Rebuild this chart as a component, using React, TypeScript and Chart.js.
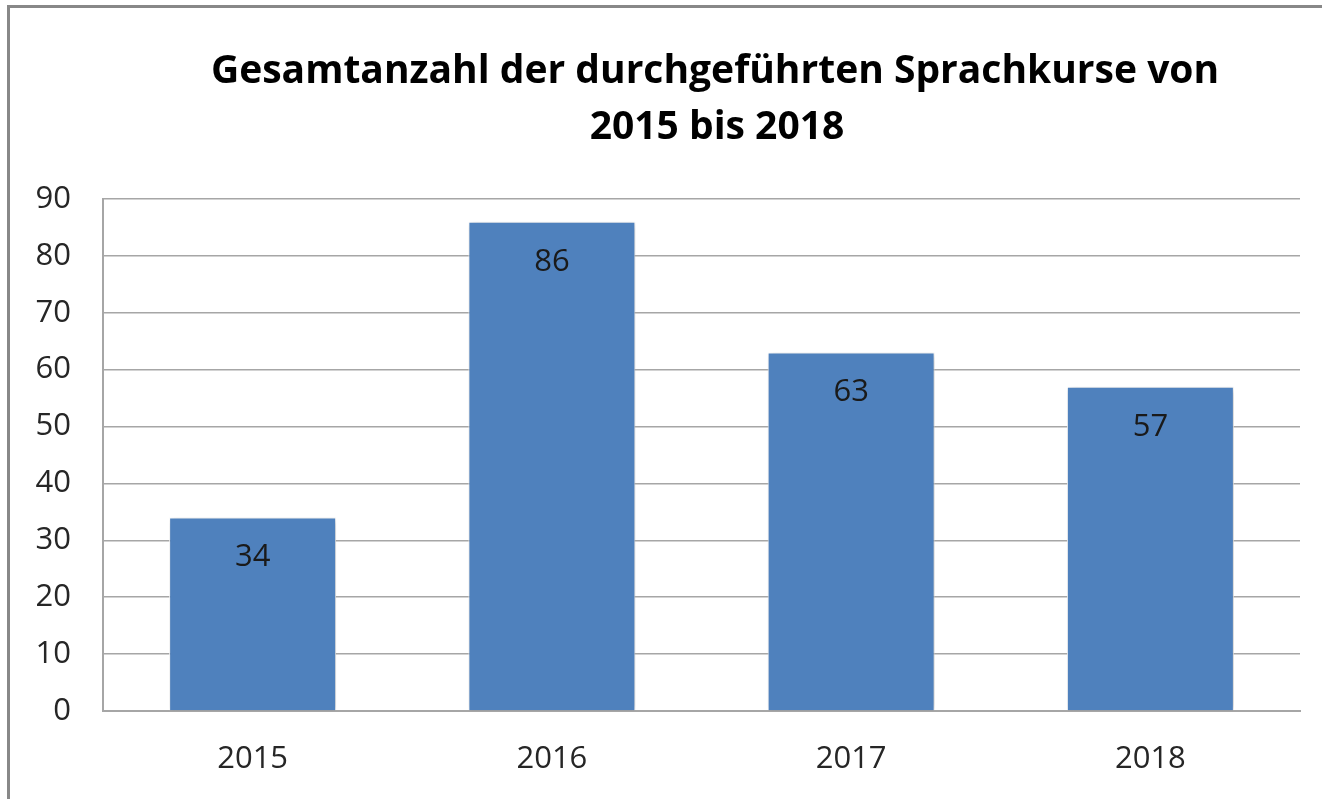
import React, { useEffect, useRef } from "react";
import { Chart, registerables } from "chart.js";

Chart.register(...registerables);

const categories = ["2015", "2016", "2017", "2018"];
const values = [34, 86, 63, 57];
const titleLines = ["Gesamtanzahl der durchgeführten Sprachkurse von", "2015 bis 2018"];

const FONT = "'Open Sans', 'Liberation Sans', sans-serif";

const titlePlugin = {
  id: "customTitle",
  afterDraw(chart: any) {
    const ctx = chart.ctx;
    ctx.save();
    ctx.fillStyle = "#000";
    ctx.font = `bold 39px ${FONT}`;
    ctx.textAlign = "center";
    ctx.textBaseline = "middle";
    ctx.fillText(titleLines[0], 715, 72);
    ctx.fillText(titleLines[1], 717, 128);
    ctx.restore();
  },
};

const shadowPlugin = {
  id: "barShadow",
  beforeDatasetDraw(chart: any) {
    const ctx = chart.ctx;
    ctx.save();
    ctx.shadowColor = "rgba(0,0,0,0.25)";
    ctx.shadowBlur = 7;
    ctx.shadowOffsetX = 2;
    ctx.shadowOffsetY = 1;
  },
  afterDatasetDraw(chart: any) {
    chart.ctx.restore();
  },
};

const labelPlugin = {
  id: "valueLabels",
  afterDatasetsDraw(chart: any) {
    const ctx = chart.ctx;
    const meta = chart.getDatasetMeta(0);
    ctx.save();
    ctx.fillStyle = "#1a1a1a";
    ctx.font = `31px ${FONT}`;
    ctx.textAlign = "center";
    ctx.textBaseline = "middle";
    meta.data.forEach((bar: any, i: number) => {
      ctx.fillText(String(values[i]), bar.x, bar.y + 40);
    });
    ctx.restore();
  },
};

export default function App() {
  const ref = useRef<HTMLCanvasElement>(null);
  useEffect(() => {
    if (!ref.current) return;
    const chart = new Chart(ref.current, {
      type: "bar",
      data: {
        labels: categories,
        datasets: [
          {
            data: values,
            backgroundColor: "#4F81BD",
            borderColor: "#ffffff",
            borderWidth: 1,
            barPercentage: 0.558,
            categoryPercentage: 1,
          },
        ],
      },
      options: {
        animation: false,
        responsive: false,
        layout: { padding: { left: 0, right: 22, top: 199, bottom: 0 } },
        plugins: { legend: { display: false }, tooltip: { enabled: false }, title: { display: false } },
        scales: {
          x: {
            grid: { display: false },
            border: { display: true, color: "#a6a6a6", width: 2 },
            ticks: { color: "#262626", font: { family: FONT, size: 31 }, padding: 22 },
            afterFit(scale: any) {
              scale.height = 88;
            },
          },
          y: {
            min: 0,
            max: 90,
            ticks: { stepSize: 10, color: "#262626", font: { family: FONT, size: 31 }, padding: 32 },
            grid: { color: "#a6a6a6", lineWidth: 1.5, drawTicks: false },
            border: { display: true, color: "#a6a6a6", width: 2 },
            afterFit(scale: any) {
              scale.width = 103;
            },
          },
        },
      },
      plugins: [shadowPlugin, labelPlugin, titlePlugin],
    });
    return () => chart.destroy();
  }, []);
  return (
    <div style={{ position: "fixed", left: 0, top: 0, width: 1322, height: 799, background: "#fff", overflow: "hidden" }}>
      <canvas ref={ref} width={1322} height={799} style={{ position: "absolute", left: 0, top: 0 }} />
      <div
        style={{
          position: "absolute",
          left: 7,
          top: 5,
          width: 1400,
          height: 900,
          borderLeft: "3px solid #888",
          borderTop: "3px solid #888",
          pointerEvents: "none",
        }}
      />
    </div>
  );
}
